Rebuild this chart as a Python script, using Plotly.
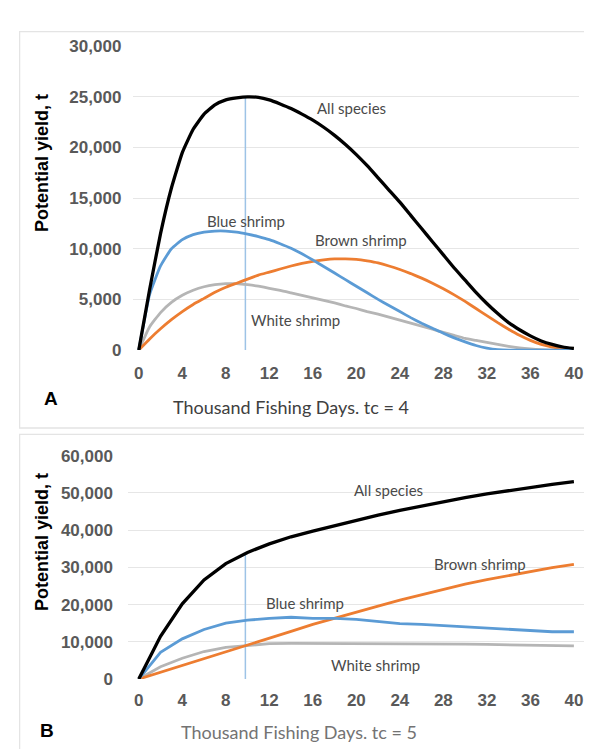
import numpy as np
import plotly.graph_objects as go

# ---------------- Panel A data (tc = 4), thousand fishing days 0..40 ----------------
xa = list(range(0, 41))
a_all = [0, 6000, 11500, 16000, 19500, 21800, 23300, 24200, 24700, 24900, 25000,
         24950, 24700, 24300, 23850, 23300, 22700, 22000, 21200, 20300, 19300,
         18200, 17000, 15800, 14600, 13300, 12000, 10700, 9400, 8100, 6900,
         5700, 4600, 3600, 2700, 2000, 1400, 900, 550, 300, 150]
a_blue = [0, 5500, 8300, 10000, 10900, 11400, 11650, 11750, 11750, 11650, 11450,
          11200, 10900, 10500, 10050, 9500, 8900, 8250, 7600, 6950, 6300,
          5650, 5000, 4400, 3800, 3200, 2650, 2150, 1650, 1200, 800,
          450, 200, 50, 0, 0, 0, 0, 0, 0, 0]
a_brown = [0, 1100, 2100, 3000, 3800, 4500, 5100, 5700, 6200, 6600, 7000,
           7400, 7700, 8000, 8300, 8550, 8750, 8900, 9000, 9000, 8950,
           8800, 8600, 8300, 7950, 7550, 7100, 6600, 6050, 5450, 4800,
           4100, 3400, 2700, 2050, 1450, 950, 550, 300, 150, 50]
a_white = [0, 2300, 3700, 4700, 5400, 5900, 6250, 6450, 6550, 6550, 6450,
           6300, 6100, 5900, 5650, 5400, 5150, 4900, 4650, 4350, 4100,
           3800, 3550, 3250, 2950, 2650, 2350, 2050, 1750, 1450, 1150,
           950, 750, 550, 350, 200, 100, 40, 0, 0, 0]

# ---------------- Panel B data (tc = 5), every 2 thousand days ----------------
xb = list(range(0, 41, 2))
b_all = [0, 11500, 20200, 26600, 31000, 34000, 36300, 38200, 39700, 41200, 42600,
         44000, 45300, 46500, 47600, 48700, 49700, 50600, 51500, 52300, 53000]
b_blue = [0, 7200, 10800, 13300, 15000, 15800, 16300, 16600, 16300, 16300, 16000,
          15400, 14900, 14700, 14400, 14000, 13700, 13500, 13200, 12700, 12700]
b_brown = [0, 1800, 3600, 5400, 7200, 9000, 10900, 12800, 14700, 16400, 18000,
           19600, 21200, 22700, 24200, 25500, 26700, 27800, 28900, 29900, 30800]
b_white = [0, 3300, 5600, 7400, 8500, 9100, 9500, 9600, 9600, 9600, 9600,
           9600, 9500, 9500, 9400, 9400, 9300, 9200, 9200, 9000, 8900]

VLINE_X = 9.8
x_ticks = list(range(0, 41, 4))
ya_ticks = [0, 5000, 10000, 15000, 20000, 25000, 30000]
yb_ticks = [0, 10000, 20000, 30000, 40000, 50000, 60000]

series_names = ["All species", "Blue shrimp", "Brown shrimp", "White shrimp"]
a_label_pos = [(19.6, 23900), (9.9, 12700), (20.4, 10900), (14.4, 3000)]
b_label_pos = [(23.0, 50800), (15.3, 20500), (31.4, 31000), (21.8, 3700)]

colors = {"All species": "#000000", "Blue shrimp": "#5b9bd5",
          "Brown shrimp": "#ed7d31", "White shrimp": "#b5b5b5"}
widths = {"All species": 3.3, "Blue shrimp": 2.8, "Brown shrimp": 2.8, "White shrimp": 2.8}

W, H = 592, 749

def px_x(p):
    return p / W

def px_y(p):
    return 1 - p / H

fig = go.Figure()

panel_data = [
    ("x", "y", xa, [a_all, a_blue, a_brown, a_white], "spline"),
    ("x2", "y2", xb, [b_all, b_blue, b_brown, b_white], "linear"),
]
for xref, yref, xs, ys_list, shape in panel_data:
    ytop = float(np.interp(VLINE_X, xs, ys_list[0]))
    fig.add_trace(go.Scatter(x=[VLINE_X, VLINE_X], y=[0, ytop], mode="lines",
                             line=dict(color="#9dc3e6", width=1.5),
                             xaxis=xref, yaxis=yref, showlegend=False, hoverinfo="skip"))
    for name, ys in zip(series_names[::-1], ys_list[::-1]):
        line = dict(color=colors[name], width=widths[name], shape=shape)
        if shape == "spline":
            line["smoothing"] = 0.4
        fig.add_trace(go.Scatter(x=xs, y=ys, mode="lines", name=name, line=line,
                                 xaxis=xref, yaxis=yref, showlegend=False))

tickfont = dict(family="Liberation Sans, Arial", size=17, color="#595959", weight="bold")
axis_common = dict(showline=False, zeroline=False, ticks="", tickfont=tickfont)

fig.update_layout(
    width=W, height=H, margin=dict(l=0, r=0, t=0, b=0),
    paper_bgcolor="white", plot_bgcolor="white", showlegend=False,
    xaxis=dict(domain=[px_x(126.2), px_x(575.2)], range=[-0.5, 40.5], tickvals=x_ticks,
               showgrid=False, anchor="y", ticklabelstandoff=11, **axis_common),
    yaxis=dict(domain=[px_y(341.7), px_y(30)], range=[0, 30000], tickvals=ya_ticks,
               tickformat=",d", showgrid=True, gridcolor="#e6e6e6", gridwidth=1.3,
               anchor="x", ticklabelstandoff=11, **axis_common),
    xaxis2=dict(domain=[px_x(120.7), px_x(580.7)], range=[-1, 41], tickvals=x_ticks,
                showgrid=False, anchor="y2", ticklabelstandoff=9, **axis_common),
    yaxis2=dict(domain=[px_y(679.3), px_y(450)], range=[0, 60000], tickvals=yb_ticks,
                tickformat=",d", showgrid=True, gridcolor="#e6e6e6", gridwidth=1.3,
                anchor="x2", ticklabelstandoff=14, **axis_common),
)

# panel frames
fig.add_shape(type="rect", xref="paper", yref="paper",
              x0=px_x(11.7), x1=px_x(600), y0=px_y(421.7), y1=px_y(15),
              line=dict(color="#e4e4e4", width=1.3), fillcolor="rgba(0,0,0,0)", layer="below")
fig.add_shape(type="rect", xref="paper", yref="paper",
              x0=px_x(11.7), x1=px_x(600), y0=px_y(760), y1=px_y(428.3),
              line=dict(color="#e4e4e4", width=1.3), fillcolor="rgba(0,0,0,0)", layer="below")

def note(**kw):
    kw.setdefault("showarrow", False)
    kw.setdefault("xanchor", "center")
    kw.setdefault("yanchor", "middle")
    fig.add_annotation(**kw)

label_font = dict(family="Lato, Open Sans", size=15, color="#4a4a4a")
for (lx, ly), name in zip(a_label_pos, series_names):
    note(x=lx, y=ly, xref="x", yref="y", text=name, font=label_font)
for (lx, ly), name in zip(b_label_pos, series_names):
    note(x=lx, y=ly, xref="x2", yref="y2", text=name, font=label_font)

ytitle_font = dict(family="Liberation Sans, Arial", size=18, color="#000000")
note(x=px_x(34), y=px_y(150), xref="paper", yref="paper",
     text="<b>Potential yield, t</b>", textangle=-90, font=ytitle_font)
note(x=px_x(35), y=px_y(539), xref="paper", yref="paper",
     text="<b>Potential yield, t</b>", textangle=-90, font=ytitle_font)

note(x=px_x(285), y=px_y(400), xref="paper", yref="paper",
     text="Thousand Fishing Days. tc = 4",
     font=dict(family="Lato, Open Sans", size=18, color="#404040"))
note(x=px_x(293), y=px_y(734), xref="paper", yref="paper",
     text="Thousand Fishing Days. tc = 5",
     font=dict(family="Lato, Open Sans", size=18, color="#737373"))

letter_font = dict(family="Liberation Sans, Arial", size=19, color="#000000")
note(x=px_x(43), y=px_y(391), xref="paper", yref="paper", text="<b>A</b>", font=letter_font)
note(x=px_x(39), y=px_y(732), xref="paper", yref="paper", text="<b>B</b>", font=letter_font)

fig.write_html("out.html")
